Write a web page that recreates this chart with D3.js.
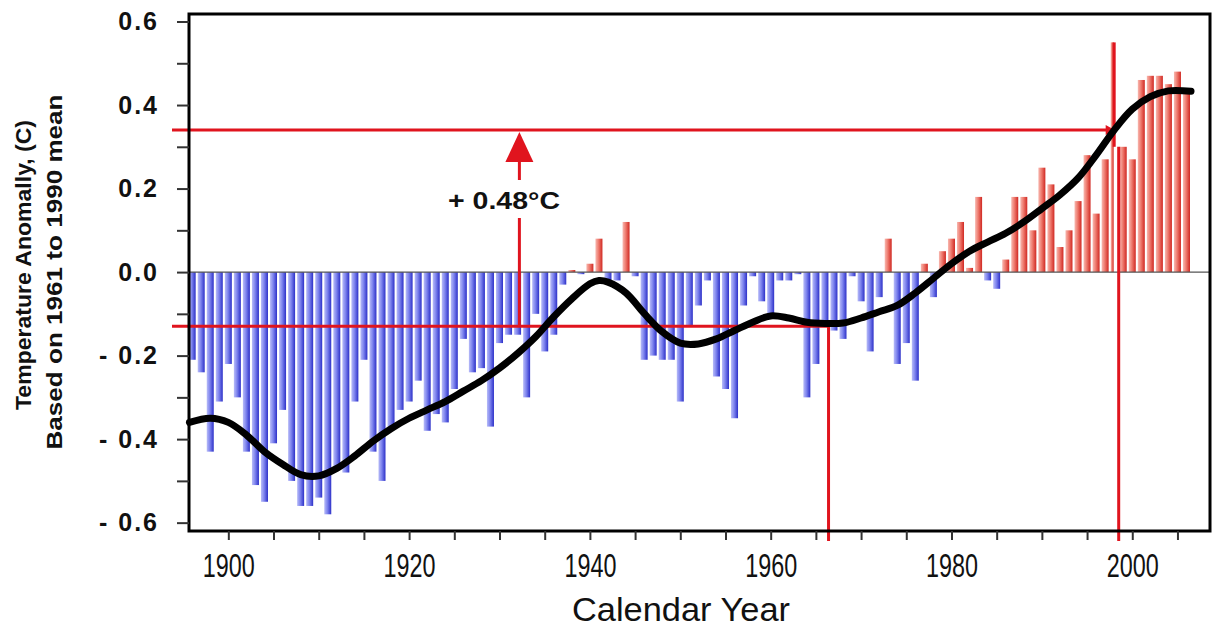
<!DOCTYPE html>
<html>
<head>
<meta charset="utf-8">
<script src="https://cdn.jsdelivr.net/npm/d3@7"></script>
<style>
  body { margin: 0; background: #fff; }
  text { font-family: "Liberation Sans", Arial, sans-serif; fill: #111; }
</style>
</head>
<body>
<script>
var width = 1213,
    height = 628;

// years and annual anomalies (deg C, vs 1961-1990)
var years = d3.range(1896, 2007);
var anomalies = [
  -0.21, -0.24, -0.43, -0.31, -0.22, -0.30, -0.43, -0.51, -0.55, -0.41, // 1896-1905
  -0.33, -0.50, -0.56, -0.56, -0.54, -0.58, -0.47, -0.48, -0.31, -0.21, // 1906-1915
  -0.43, -0.50, -0.37, -0.33, -0.31, -0.26, -0.38, -0.34, -0.36, -0.28, // 1916-1925
  -0.16, -0.24, -0.23, -0.37, -0.17, -0.15, -0.15, -0.30, -0.10, -0.19, // 1926-1935
  -0.15, -0.03, 0.005, -0.005, 0.02, 0.08, -0.02, -0.02, 0.12, -0.01,   // 1936-1945
  -0.21, -0.20, -0.21, -0.21, -0.31, -0.13, -0.08, -0.02, -0.25, -0.28, // 1946-1955
  -0.35, -0.08, -0.01, -0.07, -0.10, -0.02, -0.02, -0.005, -0.30, -0.22, // 1956-1965
  -0.13, -0.14, -0.16, -0.01, -0.07, -0.19, -0.06, 0.08, -0.22, -0.17,  // 1966-1975
  -0.26, 0.02, -0.06, 0.05, 0.08, 0.12, 0.01, 0.18, -0.02, -0.04,       // 1976-1985
  0.03, 0.18, 0.18, 0.10, 0.25, 0.21, 0.06, 0.10, 0.17, 0.28,           // 1986-1995
  0.14, 0.27, 0.55, 0.30, 0.27, 0.46, 0.47, 0.47, 0.45, 0.48,           // 1996-2005
  0.44                                                                  // 2006
];

// smoothed curve
var smoothYears = [1895.7, 1898, 1900, 1902, 1904, 1906, 1908, 1910, 1912, 1914, 1916, 1918,
  1920, 1922, 1924, 1926, 1928, 1930, 1932, 1934, 1936, 1938, 1940, 1941, 1942, 1944,
  1946, 1948, 1950, 1952, 1954, 1956, 1958, 1960, 1962, 1964, 1966, 1968, 1970, 1972,
  1974, 1976, 1978, 1980, 1982, 1984, 1986, 1988, 1990, 1992, 1994, 1996, 1998, 2000,
  2002, 2004, 2006.5];
var smoothValues = [-0.36, -0.35, -0.36, -0.39, -0.43, -0.46, -0.485, -0.488, -0.47, -0.44, -0.405, -0.375,
  -0.35, -0.33, -0.31, -0.285, -0.26, -0.23, -0.195, -0.155, -0.107, -0.064, -0.028, -0.02, -0.024, -0.05,
  -0.099, -0.143, -0.17, -0.172, -0.16, -0.14, -0.12, -0.105, -0.11, -0.12, -0.123, -0.122, -0.11, -0.095,
  -0.08, -0.05, -0.015, 0.02, 0.05, 0.072, 0.093, 0.12, 0.152, 0.185, 0.225, 0.28, 0.34, 0.39,
  0.42, 0.434, 0.433];

var yTicks = [-0.6, -0.5, -0.4, -0.3, -0.2, -0.1, 0, 0.1, 0.2, 0.3, 0.4, 0.5, 0.6];
var yTickLabels = ['- 0.6', '', '- 0.4', '', '- 0.2', '', '0.0', '', '0.2', '', '0.4', '', '0.6'];
var xTicks = d3.range(1900, 2010, 5);
var xTickLabels = [1900, 1920, 1940, 1960, 1980, 2000];

// annotation: warming from the mid-1960s level to the 1998 level
var baseLevel = -0.13, topLevel = 0.34;
var baseYear = 1966.4, topYear = 1998.5;
var warmingLabel = '+ 0.48\u00b0C';

var svg = d3.select('body').append('svg').attr('width', width).attr('height', height);
svg.append('rect').attr('width', width).attr('height', height).attr('fill', '#fff');

var x = d3.scaleLinear().domain([1895.65, 2008.6]).range([189, 1210]);
var y = d3.scaleLinear().domain([-0.62, 0.618]).range([531, 14]);

var defs = svg.append('defs');
function grad(id, c1, c2, c3) {
    var g = defs.append('linearGradient').attr('id', id).attr('x1', 0).attr('x2', 1).attr('y1', 0).attr('y2', 0);
    g.append('stop').attr('offset', '0%').attr('stop-color', c1);
    g.append('stop').attr('offset', '45%').attr('stop-color', c2);
    g.append('stop').attr('offset', '100%').attr('stop-color', c3);
}
grad('blueBar', '#b8bcf8', '#7e84ee', '#2c30c8');
grad('redBar', '#f8b8b0', '#ee7a6e', '#d02822');

var red = '#e0141e';

// bars
svg.append('g').selectAll('rect')
    .data(years.map(function (d, i) { return { year: d, value: anomalies[i] }; }))
    .enter()
    .append('rect')
    .attr('x', function (d) { return x(d.year) - 3.5; })
    .attr('width', function (d) { return d.year === 1998 ? 3 : 7; })
    .attr('y', function (d) { return d.value > 0 ? y(d.value) : y(0); })
    .attr('height', function (d) { return Math.abs(y(d.value) - y(0)); })
    .attr('fill', function (d) { return d.value > 0 ? 'url(#redBar)' : 'url(#blueBar)'; });

// zero line
svg.append('line')
    .attr('x1', x.range()[0]).attr('x2', x.range()[1])
    .attr('y1', y(0)).attr('y2', y(0))
    .attr('stroke', '#555').attr('stroke-width', 1.2);

// red guide lines
svg.append('line')
    .attr('x1', 172).attr('x2', x(baseYear))
    .attr('y1', y(baseLevel)).attr('y2', y(baseLevel))
    .attr('stroke', red).attr('stroke-width', 3);
svg.append('line')
    .attr('x1', x(baseYear)).attr('x2', x(baseYear))
    .attr('y1', y(baseLevel)).attr('y2', 541)
    .attr('stroke', red).attr('stroke-width', 3);
svg.append('line')
    .attr('x1', 172).attr('x2', x(topYear) - 8)
    .attr('y1', y(topLevel)).attr('y2', y(topLevel))
    .attr('stroke', red).attr('stroke-width', 3);
svg.append('path')
    .attr('d', 'M' + (x(topYear) - 13) + ',' + (y(topLevel) - 5) + 'L' + (x(topYear) - 4) + ',' + y(topLevel) +
        'L' + (x(topYear) - 13) + ',' + (y(topLevel) + 5) + 'Z')
    .attr('fill', red);
svg.append('line')
    .attr('x1', x(1998)).attr('x2', x(1998))
    .attr('y1', y(0.55)).attr('y2', y(0.3))
    .attr('stroke', red).attr('stroke-width', 3);
svg.append('line')
    .attr('x1', x(topYear)).attr('x2', x(topYear))
    .attr('y1', y(0.3)).attr('y2', 541)
    .attr('stroke', red).attr('stroke-width', 3);

// smoothed curve
var line = d3.line()
    .x(function (d, i) { return x(smoothYears[i]); })
    .y(function (d) { return y(d); })
    .curve(d3.curveCatmullRom.alpha(0.5));
svg.append('path')
    .datum(smoothValues)
    .attr('d', line)
    .attr('fill', 'none')
    .attr('stroke', '#000')
    .attr('stroke-width', 7)
    .attr('stroke-linecap', 'round')
    .attr('stroke-linejoin', 'round');

// arrow with the warming label
var arrowX = x(1932.2);
svg.append('line')
    .attr('x1', arrowX).attr('x2', arrowX)
    .attr('y1', y(baseLevel)).attr('y2', 218)
    .attr('stroke', red).attr('stroke-width', 3);
svg.append('line')
    .attr('x1', arrowX).attr('x2', arrowX)
    .attr('y1', 180).attr('y2', 158)
    .attr('stroke', red).attr('stroke-width', 3);
svg.append('path')
    .attr('d', 'M' + (arrowX - 14) + ',162L' + arrowX + ',' + (y(topLevel) + 2) + 'L' + (arrowX + 14) + ',162Z')
    .attr('fill', red);
svg.append('text')
    .attr('x', 504).attr('y', 209)
    .attr('text-anchor', 'middle')
    .attr('textLength', 112).attr('lengthAdjust', 'spacingAndGlyphs')
    .style('font-size', '23px').style('font-weight', 'bold')
    .text(warmingLabel);

// frame
svg.append('rect')
    .attr('x', x.range()[0]).attr('y', y.range()[1])
    .attr('width', x.range()[1] - x.range()[0]).attr('height', y.range()[0] - y.range()[1])
    .attr('fill', 'none').attr('stroke', '#000').attr('stroke-width', 3);

// y axis
var yAxis = svg.append('g')
    .attr('transform', 'translate(' + x.range()[0] + ',0)')
    .call(d3.axisLeft(y).tickValues(yTicks).tickSize(12).tickPadding(18)
        .tickFormat(function (d, i) { return yTickLabels[i]; }));
yAxis.select('.domain').remove();
yAxis.selectAll('line').attr('stroke', '#333').attr('stroke-width', 2);
yAxis.selectAll('text')
    .style('font-size', '25px').style('font-weight', 'bold')
    .style('letter-spacing', '2px')
    .attr('fill', '#111');

// x axis
var xAxis = svg.append('g')
    .attr('transform', 'translate(0,' + y.range()[0] + ')')
    .call(d3.axisBottom(x).tickValues(xTicks).tickSize(9).tickPadding(14)
        .tickFormat(function (d) { return xTickLabels.indexOf(d) >= 0 ? d : ''; }));
xAxis.select('.domain').remove();
xAxis.selectAll('line').attr('stroke', '#333').attr('stroke-width', 2);
xAxis.selectAll('text')
    .filter(function () { return this.textContent !== ''; })
    .attr('textLength', 52).attr('lengthAdjust', 'spacingAndGlyphs')
    .style('font-size', '33px')
    .attr('fill', '#111');

// axis titles
svg.append('text')
    .attr('x', 681).attr('y', 621)
    .attr('text-anchor', 'middle')
    .attr('textLength', 218).attr('lengthAdjust', 'spacingAndGlyphs')
    .style('font-size', '33px')
    .text('Calendar Year');

svg.append('text')
    .attr('transform', 'translate(31,265) rotate(-90)')
    .attr('text-anchor', 'middle')
    .attr('textLength', 290).attr('lengthAdjust', 'spacingAndGlyphs')
    .style('font-size', '22px').style('font-weight', 'bold')
    .text('Temperature Anomally, (C)');
svg.append('text')
    .attr('transform', 'translate(62,272) rotate(-90)')
    .attr('text-anchor', 'middle')
    .attr('textLength', 355).attr('lengthAdjust', 'spacingAndGlyphs')
    .style('font-size', '22px').style('font-weight', 'bold')
    .text('Based on 1961 to 1990 mean');
</script>
</body>
</html>
